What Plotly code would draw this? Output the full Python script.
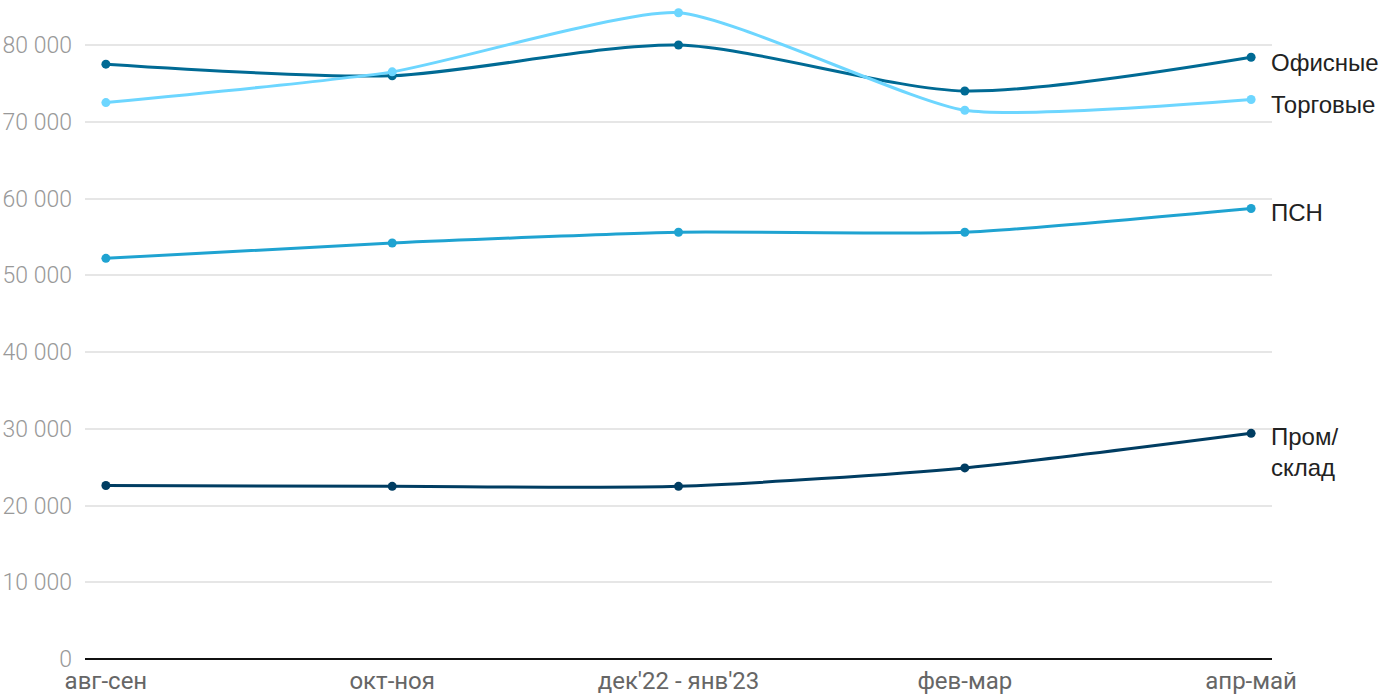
import plotly.graph_objects as go

categories = ["авг-сен", "окт-ноя", "дек'22 - янв'23", "фев-мар", "апр-май"]
office = [77500, 76000, 80000, 74000, 78400]
retail = [72500, 76500, 84200, 71500, 72900]
psn = [52200, 54200, 55600, 55600, 58700]
industrial = [22600, 22500, 22500, 24900, 29400]

series = [
    ("Офисные", office, "#006a94", -5, 0.75),
    ("Торговые", retail, "#6dd6ff", -5, 0.55),
    ("ПСН", psn, "#1fa3d1", -4, 0.55),
    ("Пром/<br>склад", industrial, "#003d62", -19, 0.7),
]

fig = go.Figure()
for name, vals, color, _, sm in series:
    fig.add_trace(go.Scatter(
        x=categories, y=vals, mode="lines+markers", name=name,
        line=dict(color=color, width=3, shape="spline", smoothing=sm),
        marker=dict(color=color, size=9),
        cliponaxis=False, hoverinfo="skip",
    ))

for name, vals, color, ys, _ in series:
    fig.add_annotation(
        x=categories[-1], y=vals[-1], text=name, showarrow=False,
        xanchor="left", yanchor="middle", xshift=18, yshift=ys, align="left",
        font=dict(family="Liberation Sans", size=24, color="#222222"),
    )

fig.update_layout(
    width=1400, height=700,
    margin=dict(l=85, r=128, t=0, b=41),
    paper_bgcolor="white", plot_bgcolor="white",
    showlegend=False,
    xaxis=dict(
        type="category", range=[-0.073, 4.073], automargin=False,
        showgrid=False, showline=False, zeroline=False,
        ticks="", ticklabelstandoff=5,
        tickfont=dict(family="Roboto", size=24, color="#666666"),
    ),
    yaxis=dict(
        range=[0, 85863], automargin=False,
        tickvals=[0, 10000, 20000, 30000, 40000, 50000, 60000, 70000, 80000],
        ticktext=["0", "10 000", "20 000", "30 000", "40 000", "50 000", "60 000", "70 000", "80 000"],
        showgrid=True, gridcolor="#e6e6e6", gridwidth=1.5,
        zeroline=True, zerolinecolor="#111111", zerolinewidth=2,
        showline=False, ticks="", ticklabelstandoff=12,
        tickfont=dict(family="Roboto", size=23, weight=300, color="#999999"),
    ),
)

fig.write_html(
    "out.html",
    config={"displayModeBar": False},
    post_script="document.body.style.margin='0';document.body.style.overflow='hidden';",
)
